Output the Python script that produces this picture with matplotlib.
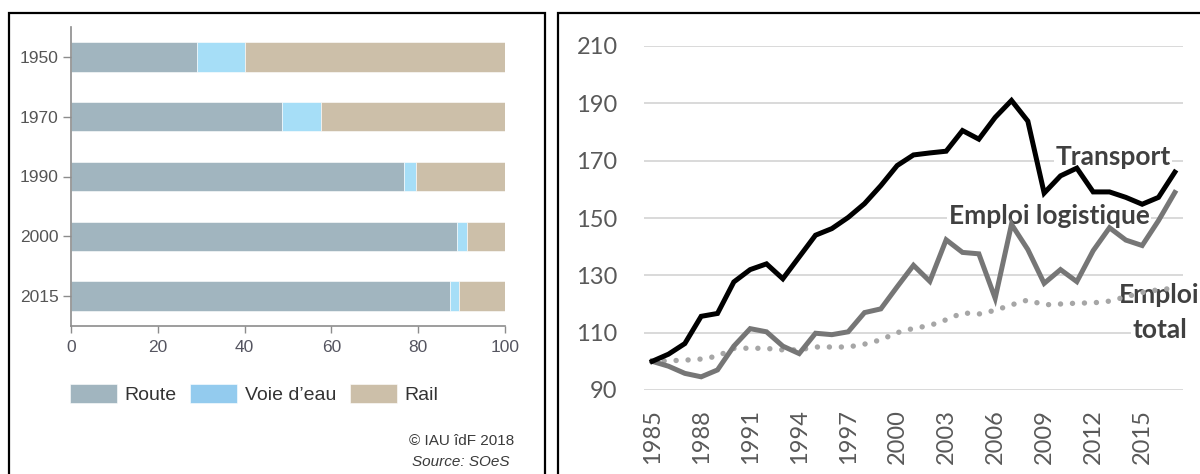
"""Parts modales du fret et indices transport / emploi"""

import matplotlib
matplotlib.use("Agg")
import matplotlib.pyplot as plt
from matplotlib.patches import Rectangle

# --- panneau gauche : parts modales (%)
bar_years = ["1950", "1970", "1990", "2000", "2015"]
route = [29.0, 48.6, 76.8, 89.0, 87.4]
voie_eau = [11.0, 9.0, 2.6, 2.3, 2.1]
rail = [60.0, 42.4, 20.6, 8.7, 10.5]
bar_labels = ["Route", "Voie d\u2019eau", "Rail"]

# --- panneau droit : indices base 100 en 1985
years = list(range(1985, 2018))
transport = [100, 102.5, 106.2, 115.7, 116.7, 127.7, 132.0, 134.0, 128.8, 136.4,
             144.0, 146.3, 150.2, 155.0, 161.3, 168.3, 172.0, 172.7, 173.3, 180.5,
             177.5, 185.1, 191.0, 183.8, 158.7, 164.7, 167.4, 159.1, 159.1, 157.2,
             154.8, 157.2, 166.0]
emploi_logistique = [100, 98.3, 95.8, 94.6, 97.0, 105.3, 111.4, 110.3, 105.3, 102.7,
                     109.8, 109.3, 110.3, 117.0, 118.3, 126.0, 133.5, 127.9, 142.4, 138.0,
                     137.5, 122.0, 147.8, 139.0, 127.2, 132.0, 127.8, 138.6, 146.6, 142.3,
                     140.4, 149.1, 158.9]
emploi_total = [100, 100.2, 100.4, 100.8, 101.8, 104.5, 104.6, 104.5, 104.0, 104.0,
                105.0, 105.0, 105.0, 106.0, 107.5, 110.0, 111.5, 112.5, 114.5, 116.9,
                116.5, 117.8, 119.7, 121.4, 119.7, 120.0, 120.3, 120.4, 121.0, 122.5,
                124.0, 125.0, 125.5]
year_ticks = list(range(1985, 2016, 3))
y_ticks = [90, 110, 130, 150, 170, 190, 210]

NARROW = ["Liberation Sans", "DejaVu Sans"]
SANS = ["Lato", "DejaVu Sans"]

fig = plt.figure(figsize=(12, 4.74), dpi=100)

# cadres noirs des deux panneaux
fig.add_artist(Rectangle((9 / 1200, -0.05), 536 / 1200, 1.05 - 13 / 474,
                         transform=fig.transFigure, fill=False, lw=1.6,
                         edgecolor="black"))
fig.add_artist(Rectangle((558 / 1200, -0.05), 0.6, 1.05 - 13 / 474,
                         transform=fig.transFigure, fill=False, lw=1.6,
                         edgecolor="black"))

# ---------------- panneau gauche
ax1 = fig.add_axes([71 / 1200, 1 - 326 / 474, 434 / 1200, 299 / 474])
pos = list(range(len(bar_years)))
c_route, c_voie, c_rail = "#A1B5BF", "#A6DEF7", "#CCBFA9"
ax1.barh(pos, route, height=0.49, color=c_route, edgecolor="white", lw=0.4,
         label=bar_labels[0])
ax1.barh(pos, voie_eau, left=route, height=0.49, color=c_voie, edgecolor="white",
         lw=0.4, label=bar_labels[1])
left2 = [a + b for a, b in zip(route, voie_eau)]
ax1.barh(pos, rail, left=left2, height=0.49, color=c_rail, edgecolor="white",
         lw=0.4, label=bar_labels[2])
ax1.set_ylim(4.5, -0.5)
ax1.set_xlim(0, 100)
ax1.set_yticks(pos)
ax1.set_yticklabels(bar_years)
ax1.set_xticks([0, 20, 40, 60, 80, 100])
for s in ["top", "right"]:
    ax1.spines[s].set_visible(False)
for s in ["left", "bottom"]:
    ax1.spines[s].set_color("#8C8C8C")
    ax1.spines[s].set_linewidth(1.2)
ax1.tick_params(axis="y", length=6, width=1.0, color="#8C8C8C", pad=3,
                labelsize=12.5, labelcolor="#555555")
ax1.tick_params(axis="x", length=5, width=1.0, color="#8C8C8C", pad=5,
                labelsize=12.5, labelcolor="#555560")
for t in ax1.get_xticklabels() + ax1.get_yticklabels():
    t.set_family(NARROW)

leg = ax1.legend(loc="center left", bbox_to_anchor=(70 / 1200, 1 - 394 / 474),
                 bbox_transform=fig.transFigure, ncol=3, frameon=False,
                 prop={"family": NARROW, "size": 14}, handlelength=2.42,
                 handleheight=1.13, handletextpad=0.4, columnspacing=0.68,
                 borderpad=0, borderaxespad=0)
for t in leg.get_texts():
    t.set_color("#333333")
leg.legend_handles[1].set_facecolor("#93CBEE")

fig.text(514 / 1200, 1 - 441 / 474, "\u00a9 IAU \u00eedF 2018", ha="right", va="center",
         family=NARROW, size=11, color="#3A3A3A")
fig.text(509 / 1200, 1 - 462 / 474, "Source: SOeS", ha="right", va="center",
         family=NARROW, size=11, style="italic", color="#3A3A3A")

# ---------------- panneau droit
ax2 = fig.add_axes([644 / 1200, 1 - 390 / 474, 539 / 1200, 344 / 474])
ax2.plot(years, emploi_total, color="#A6A6A6", lw=3.9, linestyle=(0, (0.01, 2.2)),
         dash_capstyle="round", zorder=4)
ax2.plot(years, emploi_logistique, color="#767676", lw=3.6, solid_joinstyle="miter",
         zorder=5)
ax2.plot(years, transport, color="black", lw=3.6, solid_joinstyle="miter", zorder=6)
ax2.set_xlim(1984.5, 2017.5)
ax2.set_ylim(90, 210)
ax2.set_yticks(y_ticks)
ax2.set_xticks(year_ticks)
ax2.set_xticklabels([str(y) for y in year_ticks], rotation=90, va="top")
ax2.grid(axis="y", color="#D9D9D9", lw=1.4, zorder=0)
ax2.set_axisbelow(True)
for s in ax2.spines.values():
    s.set_visible(False)
ax2.tick_params(axis="y", length=0, pad=19, labelsize=17, labelcolor="#595959")
ax2.tick_params(axis="x", length=0, pad=14, labelsize=17, labelcolor="#595959")
for t in ax2.get_xticklabels() + ax2.get_yticklabels():
    t.set_family(SANS)

box = dict(facecolor="white", edgecolor="none", pad=1)
lab = dict(family=SANS, weight="bold", size=19, color="#404040", bbox=box, zorder=3)
ax2.text(2013.2, 168.5, "Transport", ha="center", va="baseline", **lab)
ax2.text(2009.3, 147.9, "Emploi logistique", ha="center", va="baseline", **lab)
ax2.text(2013.6, 120.4, "Emploi", ha="left", va="baseline", **lab)
ax2.text(2014.4, 108.2, "total", ha="left", va="baseline", **lab)

fig.savefig("out.png", dpi=100)
